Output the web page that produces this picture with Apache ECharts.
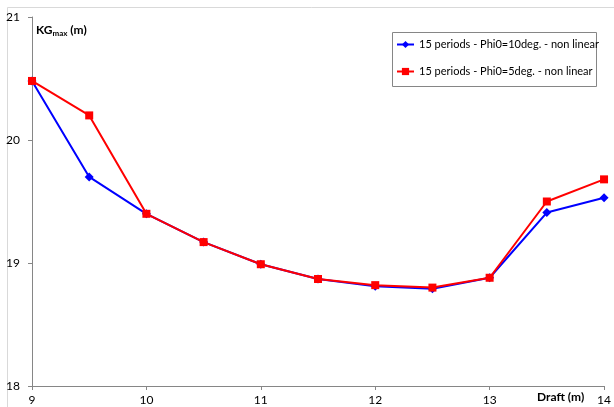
<!DOCTYPE html>
<html><head><meta charset="utf-8">
<script src="https://cdn.jsdelivr.net/npm/echarts@6/dist/echarts.min.js"></script>
<style>html,body{margin:0;padding:0;background:#fff}#c{width:614px;height:407px}</style>
</head><body><div id="c"></div>
<script>
const drafts = [9, 9.5, 10, 10.5, 11, 11.5, 12, 12.5, 13, 13.5, 14];
const phi10 = [20.48, 19.70, 19.40, 19.17, 18.99, 18.87, 18.81, 18.79, 18.88, 19.41, 19.53];
const phi5  = [20.48, 20.20, 19.40, 19.17, 18.99, 18.87, 18.82, 18.80, 18.88, 19.50, 19.68];
const seriesNames = ['15 periods - Phi0=10deg. - non linear', '15 periods - Phi0=5deg. - non linear'];
const xTicks = [9, 10, 11, 12, 13, 14];
const yTicks = [18, 19, 20, 21];

const font = 'Lato, Open Sans, sans-serif';
const chart = echarts.init(document.getElementById('c'), null, {renderer: 'canvas'});
chart.setOption({
  animation: false,
  backgroundColor: '#fff',
  graphic: [
    {type: 'rect', shape: {x: 7.5, y: 7.5, width: 620, height: 420}, style: {fill: 'none', stroke: '#d9d9d9', lineWidth: 1}, silent: true},
    {type: 'rect', shape: {x: 392.5, y: 32.5, width: 204, height: 54}, style: {fill: '#fff', stroke: '#868686', lineWidth: 1}, silent: true, z: 5},
    {type: 'text', left: 36, top: 24, style: {text: '{b|KG}{s|max}{b| (m)}', rich: {b: {fontFamily: font, fontWeight: 'bold', fontSize: 12, fill: '#000'}, s: {fontFamily: font, fontWeight: 'bold', fontSize: 8, fill: '#000', padding: [6, 0, 0, 0]}}}},
    {type: 'text', left: 537, top: 391, style: {text: 'Draft (m)', fontFamily: font, fontWeight: 'bold', fontSize: 12, fill: '#000'}}
  ],
  legend: {
    orient: 'vertical', left: 392, top: 32, z: 6,
    padding: [6, 6, 6, 4], itemGap: 14,
    itemWidth: 17, itemHeight: 9,
    borderWidth: 0,
    textStyle: {fontFamily: font, fontSize: 11, color: '#000', lineHeight: 13},
    data: seriesNames
  },
  grid: {left: 32, right: 8, top: 17, bottom: 21, containLabel: false},
  xAxis: {
    type: 'value', min: xTicks[0], max: xTicks[xTicks.length - 1], interval: 1,
    axisLine: {show: true, lineStyle: {color: '#868686'}},
    axisTick: {show: true, length: 4, lineStyle: {color: '#868686'}},
    splitLine: {show: false},
    axisLabel: {fontFamily: font, fontSize: 12, color: '#000', margin: 8}
  },
  yAxis: {
    type: 'value', min: yTicks[0], max: yTicks[yTicks.length - 1], interval: 1,
    axisLine: {show: true, lineStyle: {color: '#868686'}},
    axisTick: {show: true, length: 4, lineStyle: {color: '#868686'}},
    splitLine: {show: false},
    axisLabel: {fontFamily: font, fontSize: 12, color: '#000', margin: 12}
  },
  series: [
    {name: seriesNames[0], type: 'line', data: drafts.map((d, i) => [d, phi10[i]]),
     symbol: 'diamond', symbolSize: 9, color: '#0000ff', lineStyle: {width: 2, color: '#0000ff'}, itemStyle: {color: '#0000ff'}, z: 2},
    {name: seriesNames[1], type: 'line', data: drafts.map((d, i) => [d, phi5[i]]),
     symbol: 'rect', symbolSize: 8, color: '#ff0000', lineStyle: {width: 2, color: '#ff0000'}, itemStyle: {color: '#ff0000'}, z: 3}
  ]
});
</script></body></html>
